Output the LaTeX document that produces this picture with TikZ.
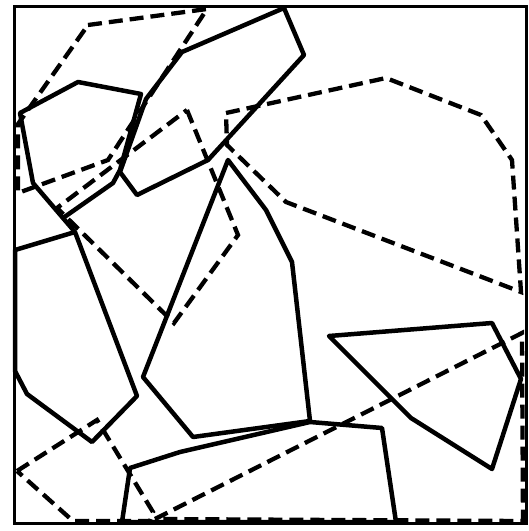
\documentclass[tikz,border=0pt]{standalone}
\begin{document}
\begin{tikzpicture}[x=1pt,y=-1pt,
  solidpoly/.style={draw=black,line width=4.5pt,line join=round},
  dashpoly/.style={draw=black,line width=4.3pt,dash pattern=on 14pt off 7pt},
  framebox/.style={draw=black,line width=3pt}]
\useasboundingbox (0,0) rectangle (529,531);
\fill[white] (0,0) rectangle (529,531);
\draw[framebox] (14,6) rectangle (526,523);
% solid polygons
\draw[solidpoly] (182,52)--(284,8)--(304,55)--(208,160)--(137,195)--(120,172)--(146,99)--cycle;
\draw[solidpoly] (20,113)--(78,82)--(141,94)--(120,170)--(113,183)--(63,218)--(33,183)--cycle;
\draw[solidpoly] (15,250)--(75,232)--(137,396)--(92,442)--(27,394)--(15,371)--cycle;
\draw[solidpoly] (63,218)--(75,232);
\draw[solidpoly] (228,160)--(266,210)--(292,262)--(310,421)--(193,437)--(143,377)--cycle;
\draw[solidpoly] (122,522)--(130,468)--(180,452)--(310,422)--(382,428)--(396,522)--cycle;
\draw[solidpoly] (329,336)--(492,323)--(521,379)--(492,469)--(411,418)--cycle;
% dashed polygons
\draw[dashpoly] (88,25)--(207,9)--(108,160)--(18,193)--(18,124)--cycle;
\draw[dashpoly] (187,110)--(238,235)--(174,323)--(57,208)--cycle;
\draw[dashpoly] (226,113)--(386,78)--(481,115)--(512,160)--(521,292)--(286,202)--(227,145)--cycle;
\draw[dashpoly] (155,519)--(522,333)--(523,521)--cycle;
\draw[dashpoly] (17,471)--(97,420)--(153,512)--(150,521)--(73,521)--cycle;
\end{tikzpicture}
\end{document}
